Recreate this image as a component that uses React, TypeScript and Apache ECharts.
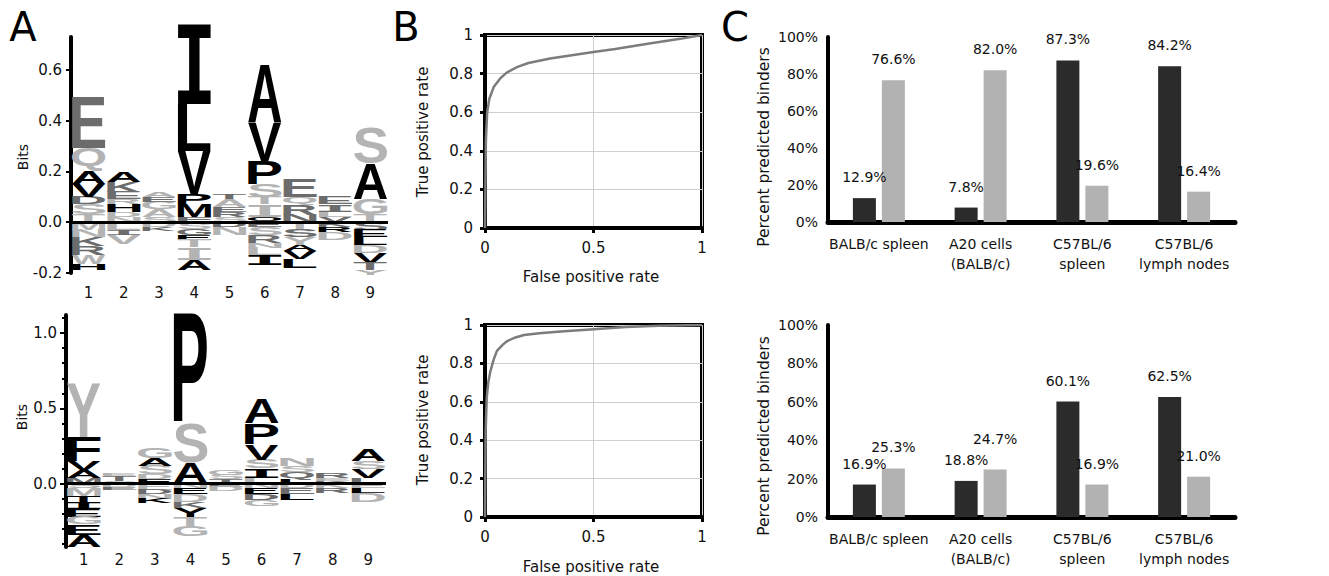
import React, { useEffect, useRef } from 'react';
import * as echarts from 'echarts';

// ---------- Panel A: sequence logos (letter, height in bits, shade) ----------
const positions = ['1', '2', '3', '4', '5', '6', '7', '8', '9'];
type Glyph = [string, number, string];

// stacked upwards from 0 (bottom first)
const logoTopUp: Glyph[][] = [
  [['T', 0.03, 'l'], ['S', 0.04, 'l'], ['D', 0.03, 'd'], ['V', 0.05, 'k'], ['A', 0.05, 'k'], ['Q', 0.09, 'l'], ['E', 0.2, 'd']],
  [['N', 0.02, 'l'], ['D', 0.02, 'l'], ['H', 0.03, 'k'], ['R', 0.02, 'l'], ['E', 0.03, 'd'], ['K', 0.04, 'd'], ['A', 0.04, 'k']],
  [['S', 0.02, 'l'], ['A', 0.03, 'l'], ['G', 0.03, 'l'], ['E', 0.02, 'd'], ['A', 0.02, 'l']],
  [['F', 0.02, 'd'], ['M', 0.05, 'k'], ['P', 0.04, 'k'], ['V', 0.17, 'k'], ['L', 0.185, 'k'], ['I', 0.32, 'k']],
  [['S', 0.02, 'l'], ['R', 0.02, 'd'], ['E', 0.02, 'd'], ['A', 0.03, 'l'], ['T', 0.02, 'd']],
  [['Q', 0.02, 'k'], ['I', 0.05, 'l'], ['T', 0.03, 'l'], ['S', 0.05, 'l'], ['P', 0.09, 'k'], ['V', 0.15, 'k'], ['A', 0.23, 'k']],
  [['N', 0.03, 'd'], ['R', 0.04, 'd'], ['Q', 0.03, 'l'], ['E', 0.07, 'd']],
  [['V', 0.02, 'd'], ['L', 0.02, 'l'], ['I', 0.03, 'd'], ['E', 0.03, 'd']],
  [['T', 0.03, 'l'], ['G', 0.06, 'l'], ['A', 0.14, 'k'], ['S', 0.14, 'l']],
];
// stacked downwards from 0 (top first)
const logoTopDown: Glyph[][] = [
  [['M', 0.03, 'l'], ['N', 0.03, 'l'], ['K', 0.035, 'd'], ['R', 0.035, 'd'], ['W', 0.035, 'l'], ['H', 0.025, 'k']],
  [['L', 0.03, 'l'], ['I', 0.02, 'd'], ['V', 0.035, 'l']],
  [['D', 0.02, 'l'], ['K', 0.015, 'd']],
  [['S', 0.025, 'l'], ['G', 0.025, 'd'], ['E', 0.02, 'k'], ['T', 0.03, 'l'], ['I', 0.05, 'l'], ['A', 0.04, 'k']],
  [['D', 0.02, 'd'], ['N', 0.03, 'l']],
  [['E', 0.02, 'd'], ['S', 0.03, 'l'], ['R', 0.03, 'd'], ['N', 0.02, 'l'], ['L', 0.03, 'l'], ['I', 0.04, 'k']],
  [['T', 0.03, 'l'], ['S', 0.03, 'd'], ['Y', 0.03, 'l'], ['A', 0.025, 'k'], ['V', 0.03, 'k'], ['L', 0.035, 'k']],
  [['K', 0.02, 'd'], ['R', 0.02, 'k'], ['D', 0.03, 'l']],
  [['S', 0.03, 'd'], ['E', 0.03, 'k'], ['L', 0.03, 'k'], ['D', 0.03, 'l'], ['V', 0.04, 'k'], ['T', 0.03, 'd'], ['Y', 0.02, 'l']],
];
const logoBottomUp: Glyph[][] = [
  [['M', 0.04, 'd'], ['A', 0.05, 'k'], ['V', 0.06, 'k'], ['F', 0.16, 'k'], ['Y', 0.36, 'l']],
  [['S', 0.02, 'l'], ['T', 0.03, 'd'], ['E', 0.02, 'l']],
  [['E', 0.03, 'k'], ['D', 0.03, 'l'], ['S', 0.06, 'l'], ['A', 0.05, 'k'], ['G', 0.07, 'l']],
  [['A', 0.14, 'k'], ['S', 0.26, 'l'], ['P', 0.72, 'k']],
  [['T', 0.03, 'd'], ['S', 0.03, 'l'], ['G', 0.03, 'l']],
  [['L', 0.04, 'l'], ['I', 0.06, 'k'], ['S', 0.06, 'l'], ['V', 0.1, 'k'], ['P', 0.14, 'k'], ['A', 0.16, 'k']],
  [['L', 0.03, 'k'], ['Q', 0.05, 'd'], ['S', 0.04, 'l'], ['N', 0.05, 'l']],
  [['K', 0.02, 'd'], ['E', 0.02, 'l'], ['R', 0.03, 'd']],
  [['L', 0.04, 'd'], ['V', 0.06, 'k'], ['S', 0.05, 'l'], ['A', 0.08, 'k']],
];
const logoBottomDown: Glyph[][] = [
  [['S', 0.03, 'l'], ['M', 0.05, 'l'], ['T', 0.04, 'k'], ['I', 0.05, 'k'], ['E', 0.05, 'k'], ['G', 0.05, 'l'], ['E', 0.07, 'k'], ['A', 0.08, 'k']],
  [['D', 0.02, 'l'], ['E', 0.02, 'd']],
  [['E', 0.04, 'l'], ['D', 0.03, 'd'], ['N', 0.03, 'l'], ['K', 0.03, 'k']],
  [['N', 0.03, 'l'], ['E', 0.04, 'k'], ['D', 0.05, 'l'], ['K', 0.04, 'd'], ['Y', 0.06, 'k'], ['T', 0.06, 'l'], ['G', 0.07, 'l']],
  [['E', 0.02, 'd'], ['D', 0.03, 'l']],
  [['N', 0.03, 'l'], ['E', 0.04, 'k'], ['D', 0.04, 'd'], ['G', 0.04, 'l']],
  [['D', 0.03, 'l'], ['E', 0.04, 'd'], ['L', 0.04, 'k']],
  [['K', 0.03, 'l'], ['R', 0.03, 'd']],
  [['E', 0.03, 'l'], ['L', 0.03, 'k'], ['D', 0.06, 'l']],
];
const logoTopTicks = [-0.2, 0, 0.2, 0.4, 0.6];
const logoBottomTicks = [0, 0.5, 1.0];

// ---------- Panel B: ROC curves [false positive rate, true positive rate] ----------
const rocTop: [number, number][] = [
  [0, 0], [0.004, 0.45], [0.01, 0.6], [0.02, 0.67], [0.04, 0.73], [0.07, 0.775], [0.1, 0.805],
  [0.15, 0.835], [0.2, 0.855], [0.3, 0.878], [0.4, 0.895], [0.5, 0.912], [0.6, 0.928],
  [0.75, 0.955], [0.9, 0.98], [1, 1],
];
const rocBottom: [number, number][] = [
  [0, 0], [0.003, 0.45], [0.008, 0.62], [0.015, 0.7], [0.025, 0.76], [0.04, 0.82], [0.055, 0.865],
  [0.08, 0.895], [0.1, 0.915], [0.14, 0.935], [0.18, 0.948], [0.25, 0.957], [0.35, 0.966],
  [0.5, 0.978], [0.65, 0.99], [0.8, 0.996], [1, 1],
];

// ---------- Panel C: percent predicted binders ----------
const cellCategories = ['BALB/c spleen', 'A20 cells\n(BALB/c)', 'C57BL/6\nspleen', 'C57BL/6\nlymph nodes'];
const topDark = [12.9, 7.8, 87.3, 84.2];
const topLight = [76.6, 82.0, 19.6, 16.4];
const bottomDark = [16.9, 18.8, 60.1, 62.5];
const bottomLight = [25.3, 24.7, 16.9, 21.0];

const SHADES: Record<string, string> = { k: '#000000', d: '#6c6c6c', l: '#b3b3b3' };
const LOGO_FONT = 'bold 100px "Liberation Sans"';
const SERIF_I_FONT = 'bold 100px "Liberation Mono"';
const FF = 'DejaVu Sans';

type Item = { pos: number; y0: number; y1: number; letter: string; color: string };

function stackLetters(up: Glyph[][], down: Glyph[][]): Item[] {
  const items: Item[] = [];
  up.forEach((col, i) => {
    let y = 0;
    col.forEach(([l, h, c]) => {
      items.push({ pos: i, y0: y, y1: y + h, letter: l, color: SHADES[c] });
      y += h;
    });
  });
  down.forEach((col, i) => {
    let y = 0;
    col.forEach(([l, h, c]) => {
      items.push({ pos: i, y0: y - h, y1: y, letter: l, color: SHADES[c] });
      y -= h;
    });
  });
  return items;
}

const fontFor = (ch: string) => (ch === 'I' ? SERIF_I_FONT : LOGO_FONT);

export default function App() {
  const ref = useRef<HTMLDivElement>(null);
  useEffect(() => {
    const el = ref.current!;
    const chart = echarts.init(el, null, { renderer: 'svg' });

    // glyph ink metrics (canvas, alphabetic baseline) + SVG 'central' baseline shift
    const cv = document.createElement('canvas');
    const ctx = cv.getContext('2d')!;
    const svgNS = 'http://www.w3.org/2000/svg';
    const probe = document.createElementNS(svgNS, 'svg');
    probe.setAttribute('width', '400');
    probe.setAttribute('height', '400');
    (probe as any).style.position = 'absolute';
    (probe as any).style.left = '-2000px';
    (probe as any).style.top = '0px';
    document.body.appendChild(probe);
    const centralShift: Record<string, number> = {};
    const shiftFor = (font: string) => {
      if (centralShift[font] == null) {
        const mk = (central: boolean) => {
          const t = document.createElementNS(svgNS, 'text');
          t.setAttribute('x', '100');
          t.setAttribute('y', '200');
          t.setAttribute('style', `font: ${font}`);
          if (central) t.setAttribute('dominant-baseline', 'central');
          t.textContent = 'H';
          probe.appendChild(t);
          const b = (t as any).getBBox();
          return b.y as number;
        };
        const a = mk(false);
        const c = mk(true);
        centralShift[font] = c - a;
      }
      return centralShift[font];
    };
    const metrics: Record<string, { l: number; r: number; a: number; d: number; s: number }> = {};
    const measure = (ch: string) => {
      if (!metrics[ch]) {
        const font = fontFor(ch);
        ctx.font = font;
        ctx.textAlign = 'center';
        ctx.textBaseline = 'alphabetic';
        const m = ctx.measureText(ch);
        metrics[ch] = {
          l: m.actualBoundingBoxLeft,
          r: m.actualBoundingBoxRight,
          a: m.actualBoundingBoxAscent,
          d: m.actualBoundingBoxDescent,
          s: shiftFor(font),
        };
      }
      return metrics[ch];
    };
    [logoTopUp, logoTopDown, logoBottomUp, logoBottomDown].forEach((g) =>
      g.forEach((col) => col.forEach(([l]) => measure(l)))
    );
    document.body.removeChild(probe);

    const logoSeries = (items: Item[], idx: number) => ({
      type: 'custom',
      xAxisIndex: idx,
      yAxisIndex: idx,
      data: items.map((it) => [it.pos, it.y0, it.y1]),
      encode: { x: 0, y: [1, 2] },
      clip: false,
      renderItem: (params: any, api: any) => {
        const it = items[params.dataIndex];
        const top = api.coord([it.pos, it.y1]);
        const bot = api.coord([it.pos, it.y0]);
        const bw = api.size([1, 0])[0] * 0.95;
        const boxH = Math.abs(bot[1] - top[1]);
        const m = measure(it.letter);
        const sx = bw / (m.l + m.r);
        const sy = boxH / (m.a + m.d);
        const cx = top[0] - ((m.r - m.l) / 2) * sx;
        const inkCenter = m.s + (m.d - m.a) / 2;
        const cy = (top[1] + bot[1]) / 2 - inkCenter * sy;
        return {
          type: 'text',
          x: cx,
          y: cy,
          scaleX: sx,
          scaleY: sy,
          silent: true,
          style: {
            text: it.letter,
            font: fontFor(it.letter),
            textAlign: 'center',
            textVerticalAlign: 'middle',
            align: 'center',
            verticalAlign: 'middle',
            fill: it.color,
          },
        };
      },
      markLine: {
        silent: true,
        symbol: 'none',
        label: { show: false },
        lineStyle: { color: '#000', width: 3, type: 'solid' },
        data: [{ yAxis: 0 }],
      },
    });

    const logoX = (idx: number, margin: number) => ({
      gridIndex: idx,
      type: 'category',
      data: positions,
      axisLine: { show: false },
      axisTick: { show: false },
      axisLabel: { fontFamily: FF, fontSize: 15, color: '#111', margin, interval: 0 },
    });

    const rocX = (idx: number) => ({
      gridIndex: idx,
      type: 'value',
      min: 0,
      max: 1,
      interval: 0.5,
      splitLine: { show: true, lineStyle: { color: '#cfcfcf', width: 1 } },
      axisLine: { show: true, lineStyle: { color: '#000', width: 4 } },
      axisTick: { show: true, length: 5, lineStyle: { color: '#000', width: 3 } },
      axisLabel: { fontFamily: FF, fontSize: 15, color: '#111', margin: 12 },
    });
    const rocY = (idx: number) => ({
      gridIndex: idx,
      type: 'value',
      min: 0,
      max: 1,
      interval: 0.2,
      splitLine: { show: true, lineStyle: { color: '#cfcfcf', width: 1 } },
      axisLine: { show: true, lineStyle: { color: '#000', width: 4 } },
      axisTick: { show: true, length: 5, lineStyle: { color: '#000', width: 3 } },
      axisLabel: { fontFamily: FF, fontSize: 15, color: '#111', margin: 12 },
    });

    const barX = (idx: number) => ({
      gridIndex: idx,
      type: 'category',
      data: cellCategories,
      axisLine: { show: true, lineStyle: { color: '#000', width: 5 } },
      axisTick: { show: false },
      axisLabel: { fontFamily: FF, fontSize: 14, color: '#111', margin: 12, lineHeight: 20, interval: 0 },
    });
    const barY = (idx: number) => ({
      gridIndex: idx,
      type: 'value',
      min: 0,
      max: 100,
      interval: 20,
      splitLine: { show: false },
      axisLine: { show: true, lineStyle: { color: '#000', width: 4 } },
      axisTick: { show: false },
      axisLabel: { fontFamily: FF, fontSize: 14, color: '#111', margin: 10, formatter: '{value}%' },
    });
    const barSeries = (data: number[], idx: number, color: string, raised: number[] = []) => ({
      type: 'bar',
      xAxisIndex: idx,
      yAxisIndex: idx,
      data: data.map((v, i) =>
        raised.includes(i) ? { value: v, label: { distance: 24 } } : v
      ),
      barWidth: 23,
      barGap: '26%',
      itemStyle: { color },
      label: {
        show: true,
        position: 'top',
        distance: 14,
        fontFamily: FF,
        fontSize: 14,
        color: '#111',
        formatter: (p: any) => `${Number(p.value).toFixed(1)}%`,
      },
    });

    const nameText = (text: string, x: number, y: number, size: number, rotate: boolean) => ({
      type: 'text',
      x,
      y,
      rotation: rotate ? Math.PI / 2 : 0,
      silent: true,
      style: {
        text,
        font: `${size}px "${FF}"`,
        fill: '#111',
        textAlign: 'center',
        textVerticalAlign: 'middle',
      },
    });
    const panelLetter = (text: string, x: number) => ({
      type: 'text',
      x,
      y: 27,
      silent: true,
      style: {
        text,
        font: `40px "${FF}"`,
        fill: '#000',
        textAlign: 'center',
        textVerticalAlign: 'middle',
      },
    });

    chart.setOption({
      animation: false,
      backgroundColor: '#ffffff',
      grid: [
        { left: 71, top: 37, width: 317, height: 236 },
        { left: 66, top: 315, width: 320, height: 232 },
        { left: 485, top: 35, width: 217, height: 193, show: true, borderColor: '#000', borderWidth: 4 },
        { left: 485, top: 325, width: 217, height: 192, show: true, borderColor: '#000', borderWidth: 4 },
        { left: 828, top: 37, width: 407, height: 185 },
        { left: 828, top: 325, width: 407, height: 192 },
      ],
      xAxis: [logoX(0, 12), logoX(1, 5), rocX(2), rocX(3), barX(4), barX(5)],
      yAxis: [
        {
          gridIndex: 0,
          type: 'value',
          min: -0.2,
          max: 0.73,
          splitLine: { show: false },
          axisLine: { show: true, lineStyle: { color: '#000', width: 4 } },
          axisTick: { show: true, length: 5, lineStyle: { color: '#000', width: 2 }, customValues: logoTopTicks },
          axisLabel: {
            customValues: logoTopTicks,
            formatter: (v: number) => v.toFixed(1),
            fontFamily: FF,
            fontSize: 15,
            color: '#111',
            margin: 9,
          },
        },
        {
          gridIndex: 1,
          type: 'value',
          min: -0.42,
          max: 1.12,
          splitNumber: 3,
          splitLine: { show: false },
          axisLine: { show: true, lineStyle: { color: '#000', width: 4 } },
          axisTick: { show: true, length: 6, lineStyle: { color: '#000', width: 2 }, customValues: logoBottomTicks },
          minorTick: { show: true, splitNumber: 5, length: 4, lineStyle: { color: '#000', width: 2 } },
          axisLabel: {
            customValues: logoBottomTicks,
            formatter: (v: number) => v.toFixed(1),
            fontFamily: FF,
            fontSize: 15,
            color: '#111',
            margin: 9,
          },
        },
        rocY(2),
        rocY(3),
        barY(4),
        barY(5),
      ],
      series: [
        logoSeries(stackLetters(logoTopUp, logoTopDown), 0),
        logoSeries(stackLetters(logoBottomUp, logoBottomDown), 1),
        {
          type: 'line',
          xAxisIndex: 2,
          yAxisIndex: 2,
          data: rocTop,
          showSymbol: false,
          lineStyle: { color: '#7c7c7c', width: 2.5 },
        },
        {
          type: 'line',
          xAxisIndex: 3,
          yAxisIndex: 3,
          data: rocBottom,
          showSymbol: false,
          lineStyle: { color: '#7c7c7c', width: 2.5 },
        },
        barSeries(topDark, 4, '#2b2b2b'),
        barSeries(topLight, 4, '#b2b2b2'),
        barSeries(bottomDark, 5, '#2b2b2b'),
        barSeries(bottomLight, 5, '#b2b2b2', [1]),
      ],
      graphic: [
        panelLetter('A', 23),
        panelLetter('B', 406),
        panelLetter('C', 735),
        nameText('Bits', 23, 157, 14, true),
        nameText('Bits', 22, 417, 14, true),
        nameText('True positive rate', 423, 132, 15, true),
        nameText('True positive rate', 423, 420, 15, true),
        nameText('False positive rate', 591, 277, 15, false),
        nameText('False positive rate', 591, 567, 15, false),
        nameText('Percent predicted binders', 764, 147, 15.5, true),
        nameText('Percent predicted binders', 764, 436, 15.5, true),
      ],
    });

    return () => chart.dispose();
  }, []);

  return <div ref={ref} style={{ position: 'fixed', left: 0, top: 0, width: 1329, height: 576 }} />;
}
